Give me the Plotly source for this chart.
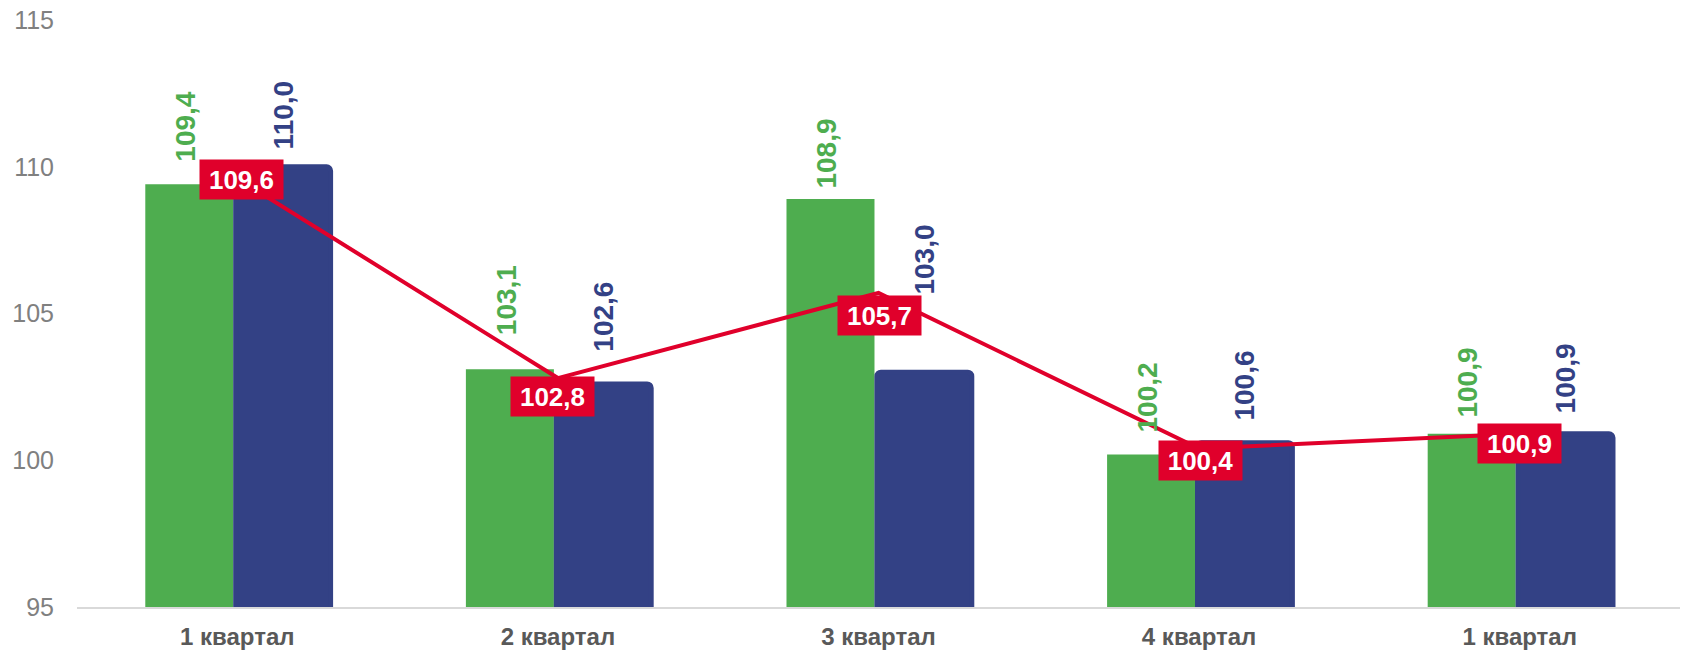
import plotly.graph_objects as go

# ---- data ----
categories = ["1 квартал", "2 квартал", "3 квартал", "4 квартал", "1 квартал"]
series_green = [109.4, 103.1, 108.9, 100.2, 100.9]
series_blue = [110.0, 102.6, 103.0, 100.6, 100.9]
series_line = [109.6, 102.8, 105.7, 100.4, 100.9]
y_ticks = [95, 100, 105, 110, 115]

# ---- styles ----
GREEN = "#4EAD4F"
BLUE = "#334185"
RED = "#E0002B"
FONT = "Liberation Sans, Arial, sans-serif"

G_OFF, G_W = -0.287, 0.2745
B_OFF, B_W = -0.005, 0.296

# per-label nudges (px)
green_dy = [21, 32, 9, 20, 14]
blue_dy = [15, 30, 76, 20, 18]
red_dx = [4, -5, 1, 1, 0]
red_dy = [-1, -18, -23, -12, -10]


def fmt(v):
    return f"{v:.1f}".replace(".", ",")


x = list(range(len(categories)))

fig = go.Figure()
fig.add_bar(
    x=x, y=series_green, offset=G_OFF, width=G_W,
    marker=dict(color=GREEN, line=dict(width=0)), hoverinfo="skip",
)
fig.add_bar(
    x=x, y=series_blue, offset=B_OFF, width=B_W,
    marker=dict(color=BLUE, line=dict(width=5, color=BLUE), cornerradius=4),
    hoverinfo="skip",
)
fig.add_scatter(
    x=x, y=series_line, mode="lines",
    line=dict(color=RED, width=4), hoverinfo="skip",
)

annotations = []
for i, v in enumerate(series_green):
    annotations.append(dict(
        x=i + G_OFF + G_W / 2, y=v, xref="x", yref="y",
        text=fmt(v), textangle=-90, showarrow=False,
        xanchor="center", yanchor="bottom", yshift=green_dy[i], xshift=-4,
        font=dict(family=FONT, size=28, color=GREEN, weight="bold"),
    ))
for i, v in enumerate(series_blue):
    annotations.append(dict(
        x=i + B_OFF + B_W / 2, y=v, xref="x", yref="y",
        text=fmt(v), textangle=-90, showarrow=False,
        xanchor="center", yanchor="bottom", yshift=blue_dy[i],
        font=dict(family=FONT, size=28, color=BLUE, weight="bold"),
    ))
for i, v in enumerate(series_line):
    annotations.append(dict(
        x=i, y=v, xref="x", yref="y",
        text=fmt(v), showarrow=False,
        xanchor="center", yanchor="middle",
        xshift=red_dx[i], yshift=red_dy[i],
        bgcolor=RED, borderpad=0, width=83, height=39,
        font=dict(family=FONT, size=26, color="white", weight="bold"),
    ))

fig.update_layout(
    width=1693, height=654,
    margin=dict(l=77, r=13, t=20, b=47, autoexpand=False),
    paper_bgcolor="white", plot_bgcolor="white",
    barmode="overlay", showlegend=False,
    annotations=annotations,
    font=dict(family=FONT),
)
fig.update_xaxes(
    range=[-0.5, len(categories) - 0.5], automargin=False,
    tickmode="array", tickvals=x, ticktext=categories,
    showgrid=False, zeroline=False,
    showline=True, linecolor="#D9D9D9", linewidth=2,
    ticks="", ticklabelstandoff=7,
    tickfont=dict(family=FONT, size=24, color="#595959", weight="bold"),
    layer="below traces",
)
fig.update_yaxes(
    range=[95, 115], automargin=False, tickmode="array", tickvals=y_ticks,
    ticktext=[str(t) for t in y_ticks],
    showgrid=False, zeroline=False, showline=False,
    ticks="", ticklabelstandoff=22,
    tickfont=dict(family=FONT, size=25, color="#808080"),
)

fig.write_html(
    "out.html",
    config={"displayModeBar": False},
    post_script="document.body.style.margin='0';document.body.style.overflow='hidden';",
)
